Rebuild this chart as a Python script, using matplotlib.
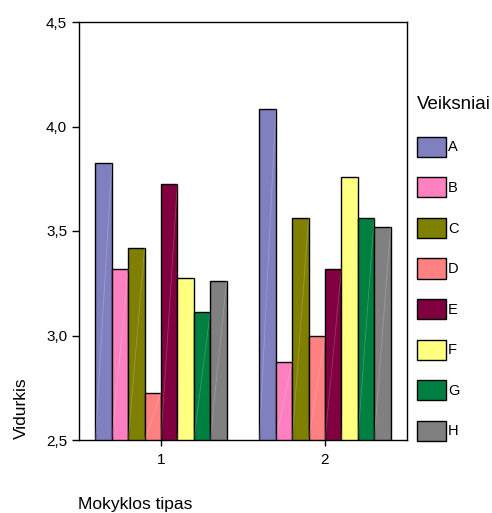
import numpy as np
import matplotlib
matplotlib.use("Agg")
import matplotlib.pyplot as plt
from matplotlib.patches import Patch
from matplotlib.ticker import FuncFormatter

plt.rcParams["font.family"] = ["Liberation Sans", "DejaVu Sans"]

groups = [1, 2]
factors = ["A", "B", "C", "D", "E", "F", "G", "H"]
vals_1 = [3.825, 3.318, 3.419, 2.726, 3.726, 3.277, 3.112, 3.262]
vals_2 = [4.082, 2.875, 3.561, 2.998, 3.318, 3.760, 3.561, 3.518]
colors = ["#8080c0", "#ff80c0", "#808000", "#ff8080", "#800040", "#ffff80", "#008040", "#808080"]

fig = plt.figure(figsize=(4.92, 5.13), dpi=100)
ax = fig.add_axes([79/492, 73/513, 328/492, 418/513])

w = 0.1
data = np.array([vals_1, vals_2])
for i, f in enumerate(factors):
    xs = np.array(groups) + (i - 3.5) * w
    bars = ax.bar(xs, data[:, i], width=w, bottom=0, color=colors[i],
                  edgecolor="black", linewidth=1.0, label=f, zorder=2)
    for b in bars:
        x0 = b.get_x(); x1 = x0 + b.get_width()
        ax.plot([x0, x1], [2.5, b.get_height()], color="white", alpha=0.22, lw=0.6, zorder=3)

ax.set_xlim(0.5, 2.5)
ax.set_ylim(2.5, 4.5)
ax.set_xticks(groups)
ax.set_xticklabels([str(g) for g in groups])
ax.set_yticks([2.5, 3.0, 3.5, 4.0, 4.5])
ax.yaxis.set_major_formatter(FuncFormatter(lambda v, p: f"{v:.1f}".replace(".", ",")))
ax.tick_params(axis="y", labelsize=11, length=5, width=1, direction="out")
ax.tick_params(axis="x", labelsize=11, length=4, width=1, direction="out", pad=5)
for s in ax.spines.values():
    s.set_linewidth(1.0)

fig.text(21/492, 1 - 408/513, "Vidurkis", rotation=90, ha="center", va="center", fontsize=12.5)
fig.text(78/492, 1 - 505/513, "Mokyklos tipas", ha="left", va="center", fontsize=12.5)

handles = [Patch(facecolor=c, edgecolor="black", linewidth=1.0, label=f) for c, f in zip(colors, factors)]
leg = fig.legend(handles=handles, title="Veiksniai", loc="upper left",
                 bbox_to_anchor=(408/492, 1 - 87/513), frameon=False,
                 fontsize=10.5, title_fontsize=13.5, handlelength=2.0, handleheight=1.75,
                 labelspacing=1.4, handletextpad=0.15, borderaxespad=0, borderpad=0.6)
leg._legend_box.align = "left"
leg._legend_box.sep = leg._legend_box.sep + 2.5

fig.savefig("out.png", dpi=100)
